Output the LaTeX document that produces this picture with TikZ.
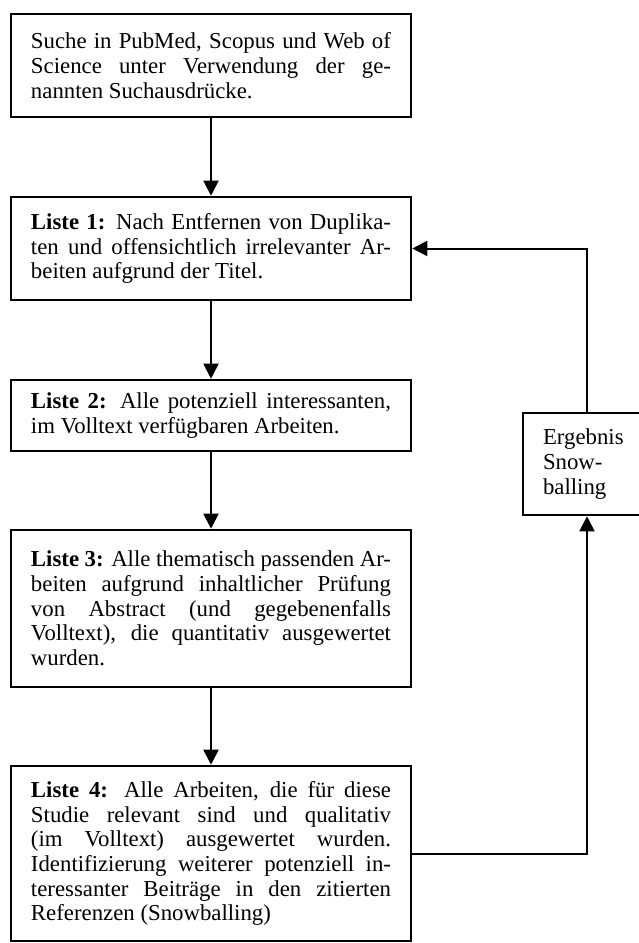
\documentclass[tikz,border=0pt]{standalone}
\usepackage{fontspec}
\setmainfont{Liberation Serif}
\usepackage{tikz}
\usetikzlibrary{arrows.meta}

\begin{document}
\begin{tikzpicture}[x=0.5pt,y=-0.5pt]
\tikzstyle{liste}=[draw,rectangle,line width=1.3pt,text width=180pt,inner xsep=10pt,align=justify,font=\fontsize{11.4}{12.35}\selectfont]
\tikzstyle{pfeil}=[line width=1pt,-{Triangle[length=7.5pt,width=7.5pt]}]
\useasboundingbox (0,0) rectangle (638,943);
\node[liste,minimum height=51.5pt] (suche) at (211,65.5) {Suche in PubMed, Scopus und Web of\linebreak Science unter Verwendung der ge-\linebreak nannten Suchausdrücke.};
\node[liste,minimum height=51.5pt] (liste1) at (211,248.5) {\textbf{Liste 1:} Nach Entfernen von Duplika-\linebreak ten und offensichtlich irrelevanter Ar-\linebreak beiten aufgrund der Titel.};
\node[liste,minimum height=35.5pt] (liste2) at (211,415.5) {\textbf{Liste 2:} Alle potenziell interessanten,\linebreak im Volltext verfügbaren Arbeiten.};
\node[liste,minimum height=78.5pt] (liste3) at (211,608.5) {\textbf{Liste 3:} Alle thematisch passenden Ar-\linebreak beiten aufgrund inhaltlicher Prüfung\linebreak von Abstract (und gegebenenfalls\linebreak Volltext), die quantitativ ausgewertet\linebreak wurden.};
\node[liste,minimum height=87.5pt] (liste4) at (211,853.5) {\textbf{Liste 4:} Alle Arbeiten, die für diese\linebreak Studie relevant sind und qualitativ\linebreak (im Volltext) ausgewertet wurden.\linebreak Identifizierung weiterer potenziell in-\linebreak teressanter Beiträge in den zitierten\linebreak Referenzen (Snowballing)};
\node[liste,text width=44pt,align=left,minimum height=51pt] (snow) at (587,464) {Ergebnis\\ Snow-\\ balling};
\draw[pfeil] (suche) -- (liste1);
\draw[pfeil] (liste1) -- (liste2);
\draw[pfeil] (liste2) -- (liste3);
\draw[pfeil] (liste3) -- (liste4);
\draw[pfeil] (liste4.east) -| (snow.south);
\draw[pfeil] (snow.north) |- (liste1.east);
\end{tikzpicture}
\end{document}
